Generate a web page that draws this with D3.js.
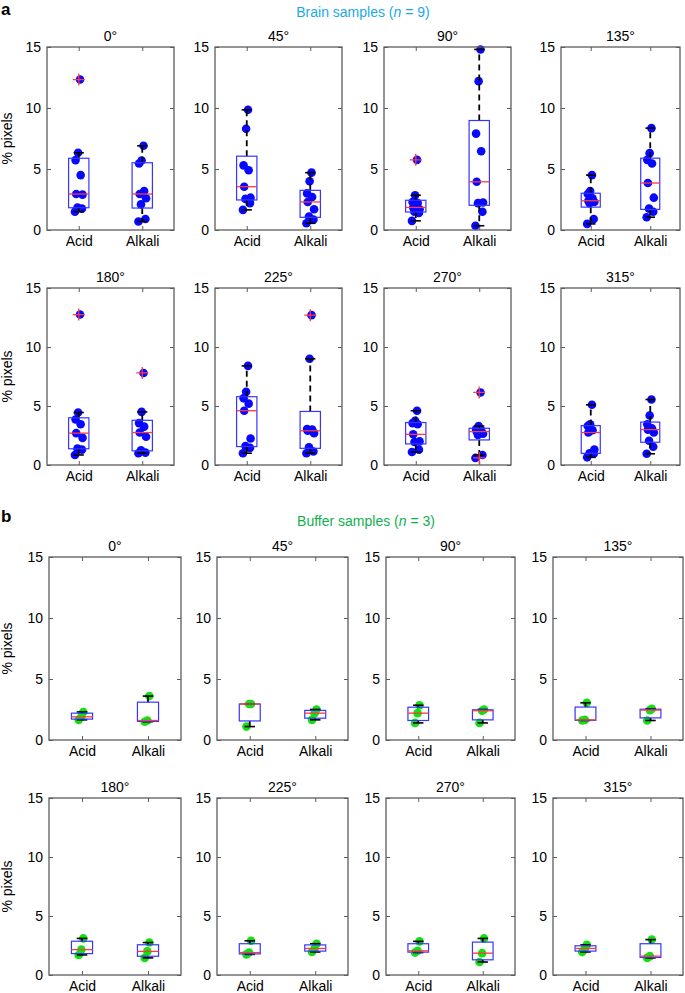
<!DOCTYPE html>
<html><head><meta charset="utf-8">
<script src="https://cdn.jsdelivr.net/npm/d3@7"></script>
<style>
body{margin:0;background:#fff}
svg{display:block}
text{font-family:"Liberation Sans",Arial,Helvetica,sans-serif}
</style>
</head><body>
<svg id="chart" width="685" height="993"></svg>
<script>
// ---------- data ----------
const angles = ["0°","45°","90°","135°","180°","225°","270°","315°"];
const groups = ["Acid","Alkali"];
const yTickValues = [0,5,10,15];

// Brain samples (n = 9), % pixels per sample, one array per angle
const brainAcid = [
  [12.33, 6.33, 5.73, 4.5, 2.95, 2.9, 1.85, 1.75, 1.5],
  [9.85, 8.3, 5.3, 4.9, 3.55, 2.65, 2.55, 2.2, 1.65],
  [5.75, 2.85, 2.3, 2.2, 1.85, 1.7, 1.5, 1.4, 0.75],
  [4.5, 3.2, 2.95, 2.6, 2.4, 2.3, 2.2, 0.9, 0.5],
  [12.75, 4.45, 3.85, 3.45, 2.7, 2.3, 1.4, 1.3, 0.85],
  [8.4, 6.2, 5.65, 5.2, 4.6, 2.25, 1.6, 1.45, 1.0],
  [4.6, 3.75, 3.55, 3.45, 2.6, 2.0, 1.95, 1.3, 1.1],
  [5.1, 3.45, 3.3, 2.95, 2.75, 1.3, 1.0, 0.95, 0.65]
];
const brainAlkali = [
  [6.9, 5.7, 5.45, 3.2, 2.95, 2.6, 2.1, 0.9, 0.7],
  [4.7, 4.0, 3.0, 2.7, 2.3, 1.7, 1.1, 0.85, 0.55],
  [14.8, 12.2, 7.9, 6.45, 3.95, 2.26, 2.2, 1.5, 0.35],
  [8.35, 6.3, 5.75, 5.45, 3.85, 2.65, 1.75, 1.5, 1.05],
  [7.8, 4.5, 3.55, 3.25, 2.75, 2.4, 1.25, 1.05, 1.0],
  [12.7, 9.0, 3.05, 3.0, 2.9, 2.7, 1.5, 1.15, 1.0],
  [6.15, 3.3, 3.05, 2.95, 2.83, 2.65, 2.55, 0.85, 0.6],
  [5.55, 4.2, 3.45, 3.1, 3.0, 2.75, 2.05, 1.55, 0.95]
];
// Buffer samples (n = 3)
const bufferAcid = [
  [2.3, 1.9, 1.65],
  [2.95, 2.95, 1.1],
  [2.85, 2.2, 1.4],
  [3.05, 1.65, 1.6],
  [3.1, 2.15, 1.7],
  [2.9, 1.9, 1.75],
  [2.85, 2.05, 1.9],
  [2.55, 2.25, 1.95]
];
const bufferAlkali = [
  [3.6, 1.6, 1.5],
  [2.5, 2.2, 1.65],
  [2.5, 2.4, 1.4],
  [2.55, 2.45, 1.6],
  [2.75, 2.0, 1.45],
  [2.65, 2.25, 1.95],
  [3.1, 1.85, 1.1],
  [3.0, 1.6, 1.45]
];
// fixed horizontal scatter offsets (category units)
const jitter = [0.02, -0.01, -0.05, 0.03, -0.04, 0.06, -0.02, 0.05, -0.06];

// ---------- layout ----------
const svg = d3.select("#chart");
const FRAME = "#5c5c5c";
const BOX = "#3535ff";
const MED = "#ff3a3a";

const panelX_a = [[47,174],[215,342],[384,511],[561,680]];
const panelX_b = [[49,181],[217,348],[386,515],[553,683]];
const rowsY = {a1:[47,230], a2:[288,465], b1:[557,740], b2:[798,975]};

// MATLAB-style percentile
function prc(s, p){
  const n = s.length, pos = n*p/100 + 0.5;
  if (pos <= 1) return s[0];
  if (pos >= n) return s[n-1];
  const i = Math.floor(pos);
  return s[i-1] + (pos - i)*(s[i]-s[i-1]);
}
function stats(vals){
  const s = vals.slice().sort((a,b)=>a-b);
  const q1 = prc(s,25), med = prc(s,50), q3 = prc(s,75), iqr = q3-q1;
  const hiF = q3 + 1.5*iqr, loF = q1 - 1.5*iqr;
  const inside = s.filter(v=>v>=loF && v<=hiF);
  return {q1, med, q3, lo: d3.min(inside), hi: d3.max(inside),
          out: s.filter(v=>v<loF || v>hiF)};
}

function panel(xr, yr, sets, title, dotColor, yLabel){
  const [x0,x1] = xr, [y0,y1] = yr;
  const x = d3.scaleLinear().domain([0.5,2.5]).range([x0,x1]);
  const y = d3.scaleLinear().domain([0,15]).range([y1,y0]);
  const g = svg.append("g");

  const styleAxis = sel => {
    sel.select(".domain").remove();
    sel.selectAll(".tick line").attr("stroke",FRAME).attr("stroke-width",1);
    sel.selectAll(".tick text").attr("fill","#000").style("font-size","14px")
       .style("font-family",'"Liberation Sans",Arial,sans-serif');
  };
  g.append("g").attr("transform",`translate(${x0},0)`)
    .call(d3.axisLeft(y).tickValues(yTickValues).tickSize(-4).tickPadding(6)).call(styleAxis);
  g.append("g").attr("transform",`translate(${x1},0)`)
    .call(d3.axisRight(y).tickValues(yTickValues).tickSize(-4).tickFormat("")).call(styleAxis);
  g.append("g").attr("transform",`translate(0,${y1})`)
    .call(d3.axisBottom(x).tickValues([1,2]).tickFormat(d=>groups[d-1]).tickSize(-4).tickPadding(6)).call(styleAxis);
  g.append("g").attr("transform",`translate(0,${y0})`)
    .call(d3.axisTop(x).tickValues([1,2]).tickSize(-4).tickFormat("")).call(styleAxis);

  // points
  sets.forEach((vals,gi)=>{
    g.append("g").selectAll("circle").data(vals).join("circle")
      .attr("cx",(d,i)=>x(gi+1+jitter[i]))
      .attr("cy",d=>y(d))
      .attr("r",4.3)
      .attr("fill",dotColor);
  });

  // box plots
  sets.forEach((vals,gi)=>{
    const c = gi+1, st = stats(vals), hw = 0.16, cw = 0.08;
    const bg = g.append("g");
    [[st.q3,st.hi],[st.q1,st.lo]].forEach(([a,b])=>{
      if (Math.abs(a-b) > 1e-9)
        bg.append("line").attr("x1",x(c)).attr("x2",x(c)).attr("y1",y(a)).attr("y2",y(b))
          .attr("stroke","#000").attr("stroke-width",1.8).attr("stroke-dasharray","6,4");
      bg.append("line").attr("x1",x(c-cw)).attr("x2",x(c+cw)).attr("y1",y(b)).attr("y2",y(b))
        .attr("stroke","#000").attr("stroke-width",1.6);
    });
    bg.append("rect").attr("x",x(c-hw)).attr("width",x(c+hw)-x(c-hw))
      .attr("y",y(st.q3)).attr("height",Math.max(0.5,y(st.q1)-y(st.q3)))
      .attr("fill","none").attr("stroke",BOX).attr("stroke-width",1.2);
    bg.append("line").attr("x1",x(c-hw)).attr("x2",x(c+hw)).attr("y1",y(st.med)).attr("y2",y(st.med))
      .attr("stroke",MED).attr("stroke-width",1.3);
    st.out.forEach(v=>{
      const px = x(c), py = y(v), s = 6;
      bg.append("path").attr("d",`M${px-s},${py}H${px+s}M${px},${py-s}V${py+s}`)
        .attr("stroke",MED).attr("stroke-width",1.3).attr("fill","none");
    });
  });

  // frame
  g.append("rect").attr("x",x0).attr("y",y0).attr("width",x1-x0).attr("height",y1-y0)
    .attr("fill","none").attr("stroke",FRAME).attr("stroke-width",1.3);

  g.append("text").attr("x",(x0+x1)/2).attr("y",y0-6).attr("text-anchor","middle")
    .style("font-size","14px").attr("fill","#000").text(title);

  if (yLabel){
    g.append("text").attr("transform",`translate(12,${(y0+y1)/2}) rotate(-90)`)
      .attr("text-anchor","middle").style("font-size","14px").attr("fill","#000").text("% pixels");
  }
}

angles.forEach((a,i)=>{
  const row = i<4 ? rowsY.a1 : rowsY.a2;
  panel(panelX_a[i%4], row, [brainAcid[i], brainAlkali[i]], a, "#0808ff", i%4===0);
});
angles.forEach((a,i)=>{
  const row = i<4 ? rowsY.b1 : rowsY.b2;
  panel(panelX_b[i%4], row, [bufferAcid[i], bufferAlkali[i]], a, "#12e012", i%4===0);
});

// headings
svg.append("text").attr("x",1).attr("y",15).style("font-size","17px").style("font-weight","bold").text("a");
svg.append("text").attr("x",1).attr("y",522).style("font-size","17px").style("font-weight","bold").text("b");

const t1 = svg.append("text").attr("x",363).attr("y",17).attr("text-anchor","middle")
  .style("font-size","14px").attr("fill","#1ba9e6");
t1.append("tspan").text("Brain samples (");
t1.append("tspan").style("font-style","italic").text("n");
t1.append("tspan").text(" = 9)");

const t2 = svg.append("text").attr("x",366).attr("y",526).attr("text-anchor","middle")
  .style("font-size","14px").attr("fill","#10b04e");
t2.append("tspan").text("Buffer samples (");
t2.append("tspan").style("font-style","italic").text("n");
t2.append("tspan").text(" = 3)");
</script>
</body></html>
